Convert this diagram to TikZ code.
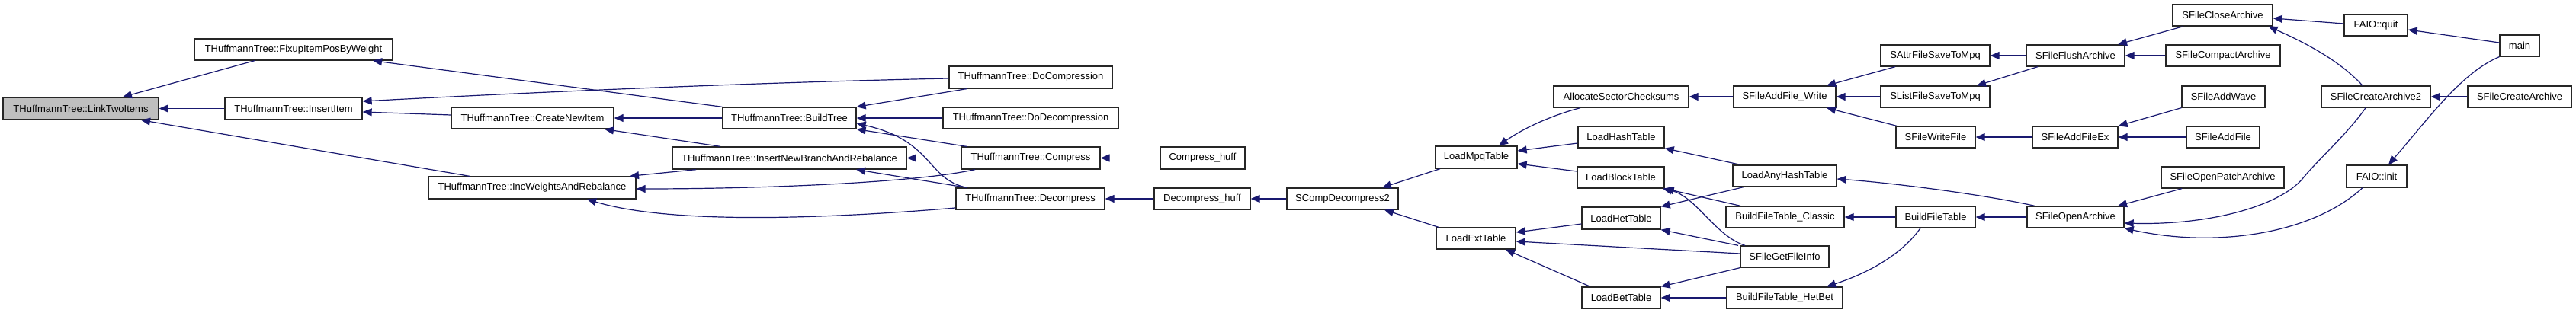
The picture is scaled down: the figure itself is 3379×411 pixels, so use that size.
\documentclass[tikz,border=0pt]{standalone}
\usepackage{fontspec}
\setmainfont{Liberation Sans}
\usetikzlibrary{arrows.meta}
\definecolor{edgec}{HTML}{191970}
\definecolor{mainfill}{HTML}{BFBFBF}
\tikzset{
  gbox/.style={draw=black!85, line width=1.3pt, fill=white, inner sep=0pt,
    font=\fontsize{13}{15}\selectfont, text=black},
  focus/.style={fill=mainfill},
  call/.style={draw=edgec, line width=1.2pt, {Triangle[length=12pt,width=10pt]}-},
}
\newcommand\gnode[7][]{%
  \pgfmathsetmacro\gw{#4-#3}\pgfmathsetmacro\gh{#6-#5}%
  \pgfmathsetmacro\gx{(#3+#4)/2}\pgfmathsetmacro\gy{(#5+#6)/2}%
  \node[gbox,#1,minimum width=\gw pt,minimum height=\gh pt] (#2) at (\gx,\gy) {#7};}
\begin{document}
\begin{tikzpicture}[x=1pt,y=-1pt]
\fill[white] (0,0) rectangle (3379,411);
\useasboundingbox (0,0) rectangle (3379,411);
% nodes
\gnode[focus]{link}{4}{208}{128}{157}{THuffmannTree::LinkTwoItems}
\gnode{fixup}{255}{515}{51}{79}{THuffmannTree::FixupItemPosByWeight}
\gnode{insert}{295}{475}{128}{157}{THuffmannTree::InsertItem}
\gnode{create}{592}{805}{141}{169}{THuffmannTree::CreateNewItem}
\gnode{incw}{562}{834}{232}{261}{THuffmannTree::IncWeightsAndRebalance}
\gnode{build}{948}{1123}{141}{169}{THuffmannTree::BuildTree}
\gnode{inb}{882}{1189}{193}{222}{THuffmannTree::InsertNewBranchAndRebalance}
\gnode{docomp}{1245}{1459}{87}{116}{THuffmannTree::DoCompression}
\gnode{dodecomp}{1237}{1467}{141}{169}{THuffmannTree::DoDecompression}
\gnode{comp}{1261}{1443}{193}{222}{THuffmannTree::Compress}
\gnode{decomp}{1254}{1449}{247}{275}{THuffmannTree::Decompress}
\gnode{comphuff}{1522}{1633}{193}{222}{Compress\_huff}
\gnode{decomphuff}{1514}{1640}{247}{275}{Decompress\_huff}
\gnode{scomp}{1688}{1834}{247}{275}{SCompDecompress2}
\gnode{lmpq}{1883}{1990}{192}{221}{LoadMpqTable}
\gnode{lext}{1884}{1988}{299}{327}{LoadExtTable}
\gnode{asc}{2038}{2215}{113}{141}{AllocateSectorChecksums}
\gnode{lhash}{2070}{2183}{166}{194}{LoadHashTable}
\gnode{lblock}{2069}{2183}{219}{247}{LoadBlockTable}
\gnode{lhet}{2075}{2178}{272}{301}{LoadHetTable}
\gnode{lbet}{2075}{2178}{377}{405}{LoadBetTable}
\gnode{addw}{2274}{2408}{113}{141}{SFileAddFile\_Write}
\gnode{anyhash}{2273}{2409}{217}{245}{LoadAnyHashTable}
\gnode{bftc}{2264}{2419}{271}{299}{BuildFileTable\_Classic}
\gnode{getinfo}{2283}{2399}{323}{351}{SFileGetFileInfo}
\gnode{bfthb}{2265}{2417}{377}{405}{BuildFileTable\_HetBet}
\gnode{attr}{2467}{2610}{59}{87}{SAttrFileSaveToMpq}
\gnode{list}{2467}{2610}{113}{141}{SListFileSaveToMpq}
\gnode{write}{2487}{2591}{166}{194}{SFileWriteFile}
\gnode{bft}{2487}{2591}{271}{299}{BuildFileTable}
\gnode{close}{2850}{2981}{6}{34}{SFileCloseArchive}
\gnode{flush}{2658}{2787}{59}{87}{SFileFlushArchive}
\gnode{compact}{2841}{2991}{59}{87}{SFileCompactArchive}
\gnode{wave}{2862}{2971}{113}{141}{SFileAddWave}
\gnode{addex}{2666}{2778}{166}{194}{SFileAddFileEx}
\gnode{addfile}{2868}{2964}{166}{194}{SFileAddFile}
\gnode{patch}{2835}{2996}{219}{247}{SFileOpenPatchArchive}
\gnode{open}{2659}{2786}{271}{299}{SFileOpenArchive}
\gnode{quit}{3075}{3158}{19}{47}{FAIO::quit}
\gnode{create2}{3045}{3188}{113}{141}{SFileCreateArchive2}
\gnode{init}{3078}{3157}{217}{246}{FAIO::init}
\gnode{main}{3279}{3331}{46}{74}{main}
\gnode{createarch}{3237}{3373}{113}{141}{SFileCreateArchive}
% edges (arrowhead at callee)
\draw[call] ([xshift=55pt]link.north) -- ([xshift=-51pt]fixup.south);
\draw[call] (link.east) -- (insert.west);
\draw[call] ([xshift=79pt]link.south) -- ([xshift=-82pt]incw.north);
\draw[call] ([xshift=104pt]fixup.south) -- (build.north west);
\draw[call] ([yshift=9.5pt]insert.east) .. controls (700,121) and (1000,108) .. ([yshift=-1.5pt]docomp.west);
\draw[call] ([yshift=-4.5pt]insert.east) -- ([yshift=4pt]create.west);
\draw[call] (create.east) -- (build.west);
\draw[call] ([xshift=94.5pt]create.south) -- ([xshift=-90.5pt]inb.north);
\draw[call] ([xshift=128pt]incw.north) -- ([xshift=-122.5pt]inb.south);
\draw[call] ([yshift=-1.5pt]incw.east) .. controls (1000,248) and (1200,240) .. ([xshift=-73pt]comp.south);
\draw[call] ([xshift=72pt]incw.south) .. controls (870,292) and (1050,290) .. ([yshift=-12pt]decomp.west);
\draw[call] (build.north east) -- ([xshift=-84pt]docomp.south);
\draw[call] (build.east) -- (dodecomp.west);
\draw[call] (build.south east) -- ([xshift=-84pt]comp.north);
\draw[call] ([yshift=-7pt]build.east) .. controls (1225,185) and (1215,235) .. ([xshift=-83.5pt]decomp.north);
\draw[call] (inb.east) -- (comp.west);
\draw[call] ([xshift=87.5pt]inb.south) -- ([xshift=-83.5pt]decomp.north);
\draw[call] (comp.east) -- (comphuff.west);
\draw[call] (decomp.east) -- (decomphuff.west);
\draw[call] (decomphuff.east) -- (scomp.west);
\draw[call] ([xshift=52pt]scomp.north) -- ([xshift=-47.5pt]lmpq.south);
\draw[call] ([xshift=55pt]scomp.south) -- ([xshift=-49pt]lext.north);
\draw[call] ([xshift=29.5pt]lmpq.north) .. controls (2000,167) and (2040,150) .. ([xshift=-53.5pt]asc.south);
\draw[call] ([yshift=8.5pt]lmpq.east) -- ([yshift=-8pt]lhash.west);
\draw[call] ([yshift=-8.5pt]lmpq.east) -- ([yshift=8pt]lblock.west);
\draw[call] ([yshift=8pt]lext.east) -- ([yshift=-7.5pt]lhet.west);
\draw[call] ([yshift=-4pt]lext.east) -- ([yshift=4pt]getinfo.west);
\draw[call] ([xshift=39pt]lext.south) -- ([xshift=-40.5pt]lbet.north);
\draw[call] (asc.east) -- (addw.west);
\draw[call] (lhash.south east) -- ([xshift=-58pt]anyhash.north);
\draw[call] (lhet.north east) -- ([xshift=-54pt]anyhash.south);
\draw[call] (lblock.south east) -- ([xshift=-58.5pt]bftc.north);
\draw[call] ([xshift=55pt]lblock.south) .. controls (2225,258) and (2250,310) .. ([xshift=-52pt]getinfo.north);
\draw[call] (lhet.south east) -- ([xshift=-61pt]getinfo.north);
\draw[call] (lbet.north east) -- (getinfo.south west);
\draw[call] (lbet.east) -- (bfthb.west);
\draw[call] (bftc.east) -- (bft.west);
\draw[call] ([xshift=55pt]bfthb.north) .. controls (2440,362) and (2490,340) .. ([xshift=-20pt]bft.south);
\draw[call] ([xshift=55pt]addw.north) -- ([xshift=-52.5pt]attr.south);
\draw[call] (addw.east) -- (list.west);
\draw[call] ([xshift=55pt]addw.south) -- ([xshift=-51pt]write.north);
\draw[call] (attr.east) -- (flush.west);
\draw[call] ([xshift=54.5pt]list.north) -- ([xshift=-49.5pt]flush.south);
\draw[call] (write.east) -- (addex.west);
\draw[call] ([yshift=-4pt]anyhash.east) .. controls (2480,240) and (2600,255) .. ([xshift=-53.5pt]open.north);
\draw[call] (bft.east) -- (open.west);
\draw[call] ([xshift=55.5pt]flush.north) -- ([xshift=-51.5pt]close.south);
\draw[call] (flush.east) -- (compact.west);
\draw[call] (addex.north east) -- (wave.south west);
\draw[call] (addex.east) -- (addfile.west);
\draw[call] ([xshift=55.5pt]open.north) -- ([xshift=-53.5pt]patch.south);
\draw[call] ([yshift=-4pt]close.east) -- ([yshift=2pt]quit.west);
\draw[call] ([xshift=60pt]close.south) .. controls (3010,50) and (3065,75) .. ([xshift=-17.5pt]create2.north);
\draw[call] ([yshift=-8pt]open.east) .. controls (2900,296) and (2990,270) .. (3020,235) .. controls (3040,210) and (3080,175) .. ([xshift=-13.5pt]create2.south);
\draw[call] (open.south east) .. controls (2900,325) and (3030,310) .. ([xshift=-18.5pt]init.south);
\draw[call] ([yshift=-6pt]quit.east) -- ([yshift=4pt]main.west);
\draw[call] ([xshift=15.5pt]init.north) .. controls (3190,150) and (3230,95) .. (main.south west);
\draw[call] (create2.east) -- (createarch.west);
\end{tikzpicture}
\end{document}
